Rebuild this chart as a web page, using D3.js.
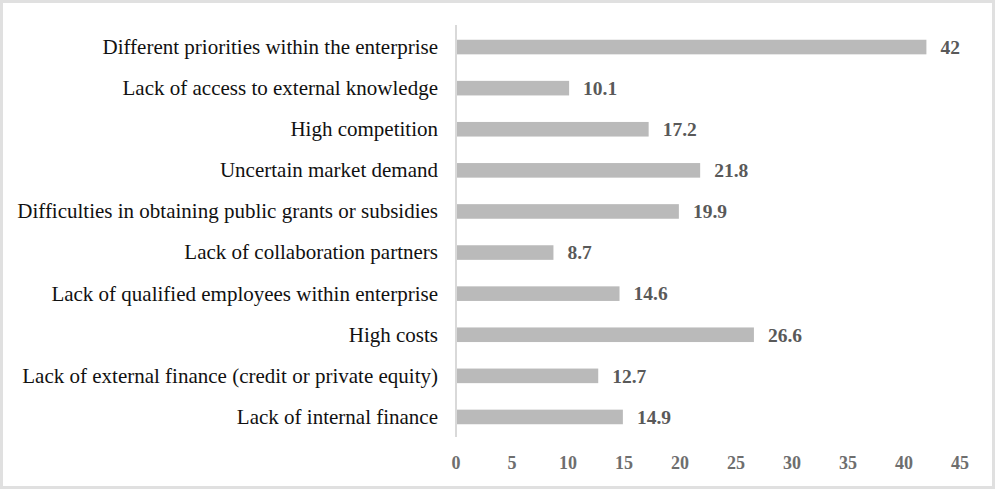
<!DOCTYPE html>
<html>
<head>
<meta charset="utf-8">
<script src="https://cdn.jsdelivr.net/npm/d3@7"></script>
<style>
  body { margin: 0; background: #fff; }
  svg { display: block; }
  text { font-family: "Liberation Serif", "Times New Roman", Times, serif; }
</style>
</head>
<body>
<div id="plt"></div>
<script>
// Barrier categories, top to bottom
const categories = [
  "Different priorities within the enterprise",
  "Lack of access to external knowledge",
  "High competition",
  "Uncertain market demand",
  "Difficulties in obtaining public grants or subsidies",
  "Lack of collaboration partners",
  "Lack of qualified employees within enterprise",
  "High costs",
  "Lack of external finance (credit or private equity)",
  "Lack of internal finance"
];
const values = [42, 10.1, 17.2, 21.8, 19.9, 8.7, 14.6, 26.6, 12.7, 14.9];
const ticks = [0, 5, 10, 15, 20, 25, 30, 35, 40, 45];

const W = 996, H = 490;
const svg = d3.select("#plt").append("svg")
    .attr("width", W)
    .attr("height", H);

// outer frame
svg.append("rect")
    .attr("x", 1.5).attr("y", 1.5)
    .attr("width", W - 4).attr("height", H - 4)
    .attr("fill", "#fff")
    .attr("stroke", "#e0e0e0")
    .attr("stroke-width", 3);

const x = d3.scaleLinear().domain([0, 45]).range([456, 960]);
const y = d3.scaleBand().domain(categories).range([26.5, 437.5]).paddingInner(0.645).paddingOuter(0.3225);

// bars
svg.append("g")
  .selectAll("rect")
  .data(categories)
  .enter()
  .append("rect")
    .attr("x", x(0))
    .attr("y", d => y(d))
    .attr("width", (d, i) => x(values[i]) - x(0))
    .attr("height", y.bandwidth())
    .attr("fill", "#bababa");

// vertical axis line
svg.append("line")
    .attr("x1", x(0)).attr("x2", x(0))
    .attr("y1", 25).attr("y2", 437)
    .attr("stroke", "#d9d9d9")
    .attr("stroke-width", 2);

// category labels
svg.append("g")
  .selectAll("text")
  .data(categories)
  .enter()
  .append("text")
    .attr("x", 438)
    .attr("y", d => y(d) + y.bandwidth() / 2)
    .attr("dy", "0.33em")
    .attr("text-anchor", "end")
    .attr("font-size", 21)
    .attr("fill", "#111")
    .text(d => d);

// value labels
svg.append("g")
  .selectAll("text")
  .data(categories)
  .enter()
  .append("text")
    .attr("x", (d, i) => x(values[i]) + 14)
    .attr("y", d => y(d) + y.bandwidth() / 2)
    .attr("dy", "0.35em")
    .attr("font-size", 19.5)
    .attr("font-weight", "bold")
    .attr("fill", "#595959")
    .text((d, i) => values[i]);

// x tick labels
svg.append("g")
  .selectAll("text")
  .data(ticks)
  .enter()
  .append("text")
    .attr("x", d => x(d))
    .attr("y", 469)
    .attr("text-anchor", "middle")
    .attr("font-size", 18)
    .attr("font-weight", "bold")
    .attr("fill", "#6e6e6e")
    .text(d => d);
</script>
</body>
</html>
